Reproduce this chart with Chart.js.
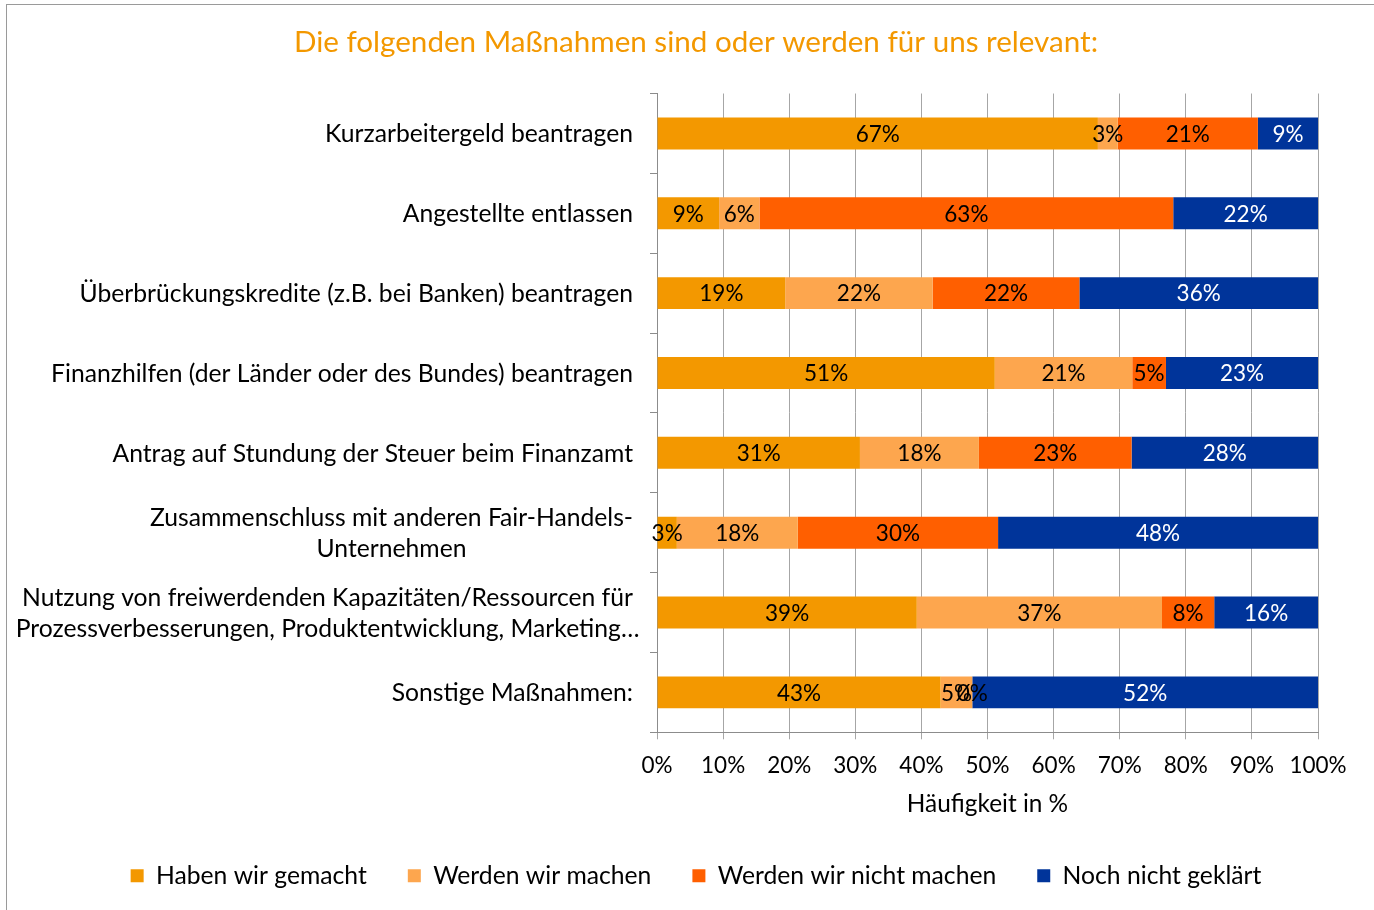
<!DOCTYPE html>
<html>
<head>
<meta charset="utf-8">
<script src="https://cdn.jsdelivr.net/npm/chart.js@4.4.0/dist/chart.umd.min.js"></script>
<style>
  html, body { margin: 0; padding: 0; background: #fff; overflow: hidden; }
  #frame { position: absolute; left: 6px; top: 4px; width: 1400px; height: 1000px; border: 1px solid #9a9a9a; }
  #wrap { position: absolute; left: 0; top: 0; width: 1374px; height: 910px; }
</style>
</head>
<body>
<div id="frame"></div>
<div id="wrap"><canvas id="barChart"></canvas></div>
<script>
const FONT = 'Lato';

const categories = [
    'Kurzarbeitergeld beantragen',
    'Angestellte entlassen',
    'Überbrückungskredite (z.B. bei Banken) beantragen',
    'Finanzhilfen (der Länder oder des Bundes) beantragen',
    'Antrag auf Stundung der Steuer beim Finanzamt',
    ['Zusammenschluss mit anderen Fair-Handels-', 'Unternehmen'],
    ['Nutzung von freiwerdenden Kapazitäten/Ressourcen für', 'Prozessverbesserungen, Produktentwicklung, Marketing…'],
    'Sonstige Maßnahmen:'
]

const seriesNames = ['Haben wir gemacht', 'Werden wir machen', 'Werden wir nicht machen', 'Noch nicht geklärt']
const habenWirGemacht = [66.7, 9.4, 19.4, 51.1, 30.7, 3.0, 39.3, 42.9]
const werdenWirMachen = [3.0, 6.1, 22.3, 20.8, 18.0, 18.3, 37.1, 4.8]
const werdenWirNichtMachen = [21.2, 62.6, 22.2, 5.1, 23.1, 30.3, 7.9, 0]
const nochNichtGeklaert = [9.1, 21.9, 36.1, 23.0, 28.2, 48.4, 15.7, 52.3]

const xTicks = [0, 10, 20, 30, 40, 50, 60, 70, 80, 90, 100]

const colors = ['#F39800', '#FDA64E', '#FF5F00', '#00349A']
const labelColors = ['#000', '#000', '#000', '#fff']

// percentage labels in the middle of each segment
const segmentLabels = {
    id: 'segmentLabels',
    afterDatasetsDraw(chart) {
        const { ctx } = chart
        ctx.save()
        ctx.font = `22.5px ${FONT}`
        ctx.textAlign = 'center'
        ctx.textBaseline = 'middle'
        chart.data.datasets.forEach((ds, i) => {
            const meta = chart.getDatasetMeta(i)
            meta.data.forEach((bar, j) => {
                const { x, y, base } = bar.getProps(['x', 'y', 'base'], true)
                ctx.fillStyle = labelColors[i]
                ctx.fillText(Math.round(ds.data[j]) + '%', (x + base) / 2, y + 1)
            })
        })
        ctx.restore()
    }
}

// category labels: first line right aligned at the axis, further lines centred under it
const categoryLabels = {
    id: 'categoryLabels',
    afterDraw(chart) {
        const { ctx } = chart
        const yScale = chart.scales.y
        const right = 633
        ctx.save()
        ctx.font = `24.7px ${FONT}`
        ctx.fillStyle = '#000'
        ctx.textAlign = 'center'
        ctx.textBaseline = 'middle'
        categories.forEach((label, i) => {
            const lines = Array.isArray(label) ? label : [label]
            const w = ctx.measureText(lines[0]).width
            const cx = right - w / 2
            const yc = yScale.getPixelForValue(i)
            lines.forEach((l, k) => {
                ctx.fillText(l, cx, yc + (k - (lines.length - 1) / 2) * 31 + 1)
            })
        })
        ctx.restore()
    }
}

const ctx = document.getElementById('barChart').getContext('2d')

new Chart(ctx, {
    type: 'bar',
    data: {
        labels: categories,
        datasets: [habenWirGemacht, werdenWirMachen, werdenWirNichtMachen, nochNichtGeklaert].map((values, i) => ({
            label: seriesNames[i],
            data: values,
            backgroundColor: colors[i],
            borderWidth: 0,
            barPercentage: 0.4,
            categoryPercentage: 1
        }))
    },
    options: {
        indexAxis: 'y',
        responsive: true,
        maintainAspectRatio: false,
        animation: false,
        layout: {
            padding: { left: 74, right: 56, top: 0, bottom: 12 }
        },
        scales: {
            x: {
                stacked: true,
                min: 0,
                max: 100,
                afterBuildTicks: (scale) => { scale.ticks = xTicks.map(v => ({ value: v })) },
                afterFit: (scale) => { scale.height = 90 },
                ticks: {
                    callback: (v) => v + '%',
                    color: '#000',
                    padding: 13,
                    maxRotation: 0,
                    font: { family: FONT, size: 22.5 }
                },
                grid: { color: '#a6a6a6', tickLength: 7, tickColor: '#a6a6a6' },
                border: { color: '#8c8c8c' },
                title: {
                    display: true,
                    text: 'Häufigkeit in %',
                    color: '#000',
                    font: { family: FONT, size: 24.4 },
                    padding: { top: 0, bottom: 4 }
                }
            },
            y: {
                stacked: true,
                afterFit: (scale) => { scale.width = 583 },
                ticks: { display: false },
                grid: { offset: true, drawOnChartArea: false, tickLength: 7, tickColor: '#8c8c8c' },
                border: { color: '#8c8c8c' }
            }
        },
        plugins: {
            title: {
                display: true,
                text: 'Die folgenden Maßnahmen sind oder werden für uns relevant:',
                color: '#F39800',
                font: { family: FONT, size: 29.6, weight: 'normal' },
                padding: { top: 25, bottom: 33 }
            },
            legend: {
                position: 'bottom',
                labels: {
                    color: '#000',
                    boxWidth: 13,
                    boxHeight: 13,
                    padding: 41,
                    font: { family: FONT, size: 24.7 }
                }
            },
            tooltip: { enabled: false }
        }
    },
    plugins: [segmentLabels, categoryLabels]
})
</script>
</body>
</html>
